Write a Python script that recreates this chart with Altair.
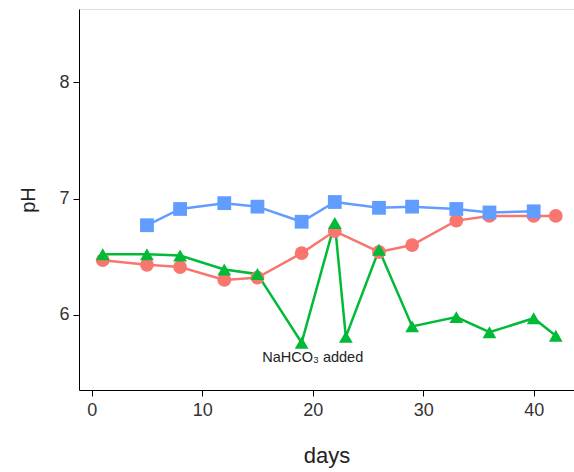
import altair as alt
import pandas as pd

red_days = [1, 5, 8, 12, 15, 19, 22, 26, 29, 33, 36, 40, 42]
red_ph = [6.47, 6.43, 6.41, 6.30, 6.32, 6.53, 6.72, 6.54, 6.60, 6.81, 6.85, 6.85, 6.85]

green_days = [1, 5, 8, 12, 15, 19, 22, 23, 26, 29, 33, 36, 40, 42]
green_ph = [6.52, 6.52, 6.51, 6.39, 6.35, 5.76, 6.79, 5.81, 6.56, 5.90, 5.98, 5.85, 5.97, 5.82]

blue_days = [5, 8, 12, 15, 19, 22, 26, 29, 33, 36, 40]
blue_ph = [6.77, 6.91, 6.96, 6.93, 6.80, 6.97, 6.92, 6.93, 6.91, 6.88, 6.89]

series_names = ["A", "B", "C"]
series_colors = ["#F8766D", "#00BA38", "#619CFF"]
series_shapes = ["circle", "triangle-up", "square"]

x_ticks = [0, 10, 20, 30, 40]
y_ticks = [6, 7, 8]

note_x = [20]
note_y = [5.63]
note_text = ["NaHCO\u2083 added"]

rows = []
for name, days, ph in zip(series_names, [red_days, green_days, blue_days], [red_ph, green_ph, blue_ph]):
    for d, p in zip(days, ph):
        rows.append({"series": name, "days": d, "pH": p})
df = pd.DataFrame(rows)
note_df = pd.DataFrame({"x": note_x, "y": note_y, "t": note_text})

xs = alt.Scale(domain=[-1.15, 43.65], nice=False, zero=False)
ys = alt.Scale(domain=[5.353, 8.63], nice=False, zero=False)
cs = alt.Scale(domain=series_names, range=series_colors)
ss = alt.Scale(domain=series_names, range=series_shapes)

x_enc = alt.X("days:Q", scale=xs, title="days",
              axis=alt.Axis(values=x_ticks, format="d", grid=False, domainColor="black", tickColor="black",
                            tickSize=6, labelFontSize=18, labelColor="#333333", labelPadding=5,
                            titleFontSize=22, titleFontWeight="normal", titleColor="#222222",
                            titlePadding=26, labelFont="Liberation Sans", titleFont="Liberation Sans"))
y_enc = alt.Y("pH:Q", scale=ys, title="pH",
              axis=alt.Axis(values=y_ticks, format="d", grid=False, domainColor="black", tickColor="black",
                            tickSize=6, labelFontSize=18, labelColor="#333333", labelPadding=4,
                            titleFontSize=20, titleFontWeight="normal", titleColor="#222222",
                            titlePadding=20, labelFont="Liberation Sans", titleFont="Liberation Sans"))

base = alt.Chart(df)
lines = base.mark_line(strokeWidth=2.5, clip=True).encode(
    x=x_enc, y=y_enc,
    color=alt.Color("series:N", scale=cs, legend=None),
)
points = base.mark_point(filled=True, opacity=1, size=190, clip=True).encode(
    x=alt.X("days:Q", scale=xs),
    y=alt.Y("pH:Q", scale=ys),
    color=alt.Color("series:N", scale=cs, legend=None),
    shape=alt.Shape("series:N", scale=ss, legend=None),
)
note = alt.Chart(note_df).mark_text(fontSize=14.5, font="Liberation Sans", color="#222222", baseline="middle").encode(
    x=alt.X("x:Q", scale=xs), y=alt.Y("y:Q", scale=ys), text="t:N"
)

chart = alt.layer(lines, points, note).properties(
    width=495, height=381,
    autosize=alt.AutoSizeParams(type="none"),
    padding={"left": 79, "top": 9, "right": 0, "bottom": 82},
).configure_view(stroke=None).configure(background="white")

chart.save("out.html", embed_options={"renderer": "svg", "actions": False})
